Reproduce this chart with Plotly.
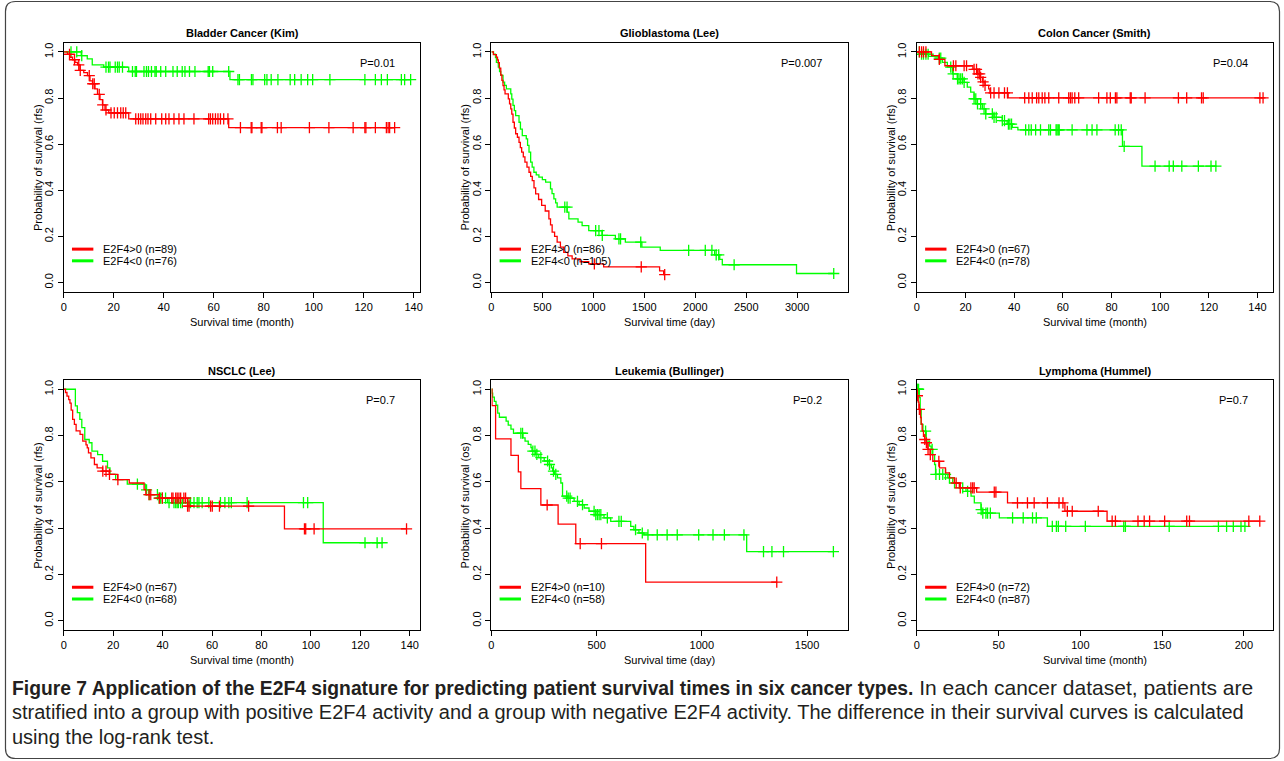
import plotly.graph_objects as go

# ---------------- data ----------------
titles = ["Bladder Cancer (Kim)", "Glioblastoma (Lee)", "Colon Cancer (Smith)",
          "NSCLC (Lee)", "Leukemia (Bullinger)", "Lymphoma (Hummel)"]
p_values = ["P=0.01", "P=0.007", "P=0.04", "P=0.7", "P=0.2", "P=0.7"]
x_titles = ["Survival time (month)", "Survival time (day)", "Survival time (month)",
            "Survival time (month)", "Survival time (day)", "Survival time (month)"]
y_titles = ["Probability of survival (rfs)", "Probability of survival (rfs)",
            "Probability of survival (rfs)", "Probability of survival (rfs)",
            "Probability of survival (os)", "Probability of survival (rfs)"]
pos_labels = ["E2F4>0 (n=89)", "E2F4>0 (n=86)", "E2F4>0 (n=67)",
              "E2F4>0 (n=67)", "E2F4>0 (n=10)", "E2F4>0 (n=72)"]
neg_labels = ["E2F4<0 (n=76)", "E2F4<0 (n=105)", "E2F4<0 (n=78)",
              "E2F4<0 (n=68)", "E2F4<0 (n=58)", "E2F4<0 (n=87)"]
x_tick_step = [20, 500, 20, 20, 500, 50]
x_tick_max = [140, 3000, 140, 140, 1500, 200]
y_ticks = [0.0, 0.2, 0.4, 0.6, 0.8, 1.0]

# Bladder
bladder_pos_t = [1.5, 2.5, 3.5, 4.5, 5.5, 6.5, 8, 9.5, 10.5, 11.5, 12.5, 13.5, 14.5, 15.5, 16.5, 18, 26, 66]
bladder_pos_s = [0.99, 0.977, 0.966, 0.955, 0.944, 0.92, 0.91, 0.897, 0.874, 0.862, 0.84, 0.816, 0.793, 0.77, 0.748, 0.736, 0.71, 0.672]
bladder_pos_c = [2.3, 4.3, 6, 6.6, 10.2, 11.6, 12.2, 14.2, 15.6, 16.9, 18.9, 20.2, 21.5, 22.8, 23.8, 24.8,
                 28.8, 29.9, 30.8, 31.7, 32.8, 33.7, 34.8, 36.8, 39.2, 40.8, 42.1, 44.1, 46.1, 48.1, 52.1,
                 58, 58.7, 59.6, 60.7, 61.7, 62.7, 64, 65.7, 70.7, 75, 75.3, 79, 79.3, 85.5, 87, 98.3,
                 106.1, 115.8, 120.5, 120.9, 124.7, 129.1, 129.8, 130.4, 132.4]
bladder_neg_t = [7, 9.4, 11.4, 16, 26, 66.5]
bladder_neg_s = [0.984, 0.97, 0.944, 0.934, 0.915, 0.88]
bladder_neg_c = [2.9, 5.2, 7.2, 16.9, 17.9, 18.5, 20.6, 21.5, 22.2, 23.5, 27.5, 28.6, 29.1, 32.1, 33.1, 33.9,
                 35.1, 36.5, 37, 38.8, 40.8, 43.7, 45.4, 47.4, 48.5, 50.3, 52.5, 57.8, 58.3, 59.6, 66,
                 69.7, 70.3, 75.1, 75.7, 80.4, 81.3, 83, 85.7, 90.6, 92.4, 95, 97.6, 99.6, 106.5, 120.5,
                 124.7, 127.1, 129.5, 135.1, 136.4, 138.8]

# Glioblastoma
glio_pos_t = [20, 49, 60, 68, 78, 92, 103, 114, 124, 134, 166, 178, 190, 200, 212, 225, 238, 255, 271, 284,
              297, 313, 329, 349, 369, 385, 401, 418, 434, 463, 493, 528, 564, 580, 596, 620, 645, 677,
              710, 750, 792, 870, 955, 1101, 1650, 1690]
glio_pos_s = [0.988, 0.977, 0.965, 0.953, 0.93, 0.9, 0.877, 0.854, 0.835, 0.818, 0.796, 0.775, 0.753, 0.73,
              0.695, 0.67, 0.645, 0.63, 0.608, 0.585, 0.565, 0.545, 0.522, 0.5, 0.478, 0.46, 0.442, 0.41,
              0.384, 0.36, 0.334, 0.31, 0.276, 0.25, 0.218, 0.2, 0.175, 0.153, 0.131, 0.115, 0.102, 0.09,
              0.081, 0.068, 0.05, 0.034]
glio_pos_c = [1010, 1470, 1700]
glio_neg_t = [20, 40, 49, 68, 80, 92, 114, 130, 147, 190, 200, 212, 225, 238, 271, 285, 303, 342, 355, 369,
              385, 400, 417, 440, 466, 500, 532, 580, 595, 613, 630, 645, 743, 760, 850, 890, 955, 1085,
              1216, 1314, 1476, 1656, 2190, 2240, 2265, 2993]
glio_neg_s = [0.99, 0.975, 0.955, 0.934, 0.915, 0.898, 0.869, 0.855, 0.84, 0.818, 0.795, 0.768, 0.745,
              0.724, 0.695, 0.665, 0.637, 0.623, 0.595, 0.565, 0.522, 0.5, 0.478, 0.467, 0.457, 0.446,
              0.435, 0.406, 0.385, 0.363, 0.345, 0.327, 0.305, 0.276, 0.262, 0.247, 0.225, 0.204, 0.189,
              0.175, 0.153, 0.139, 0.12, 0.1, 0.077, 0.039]
glio_neg_c = [720, 742, 1023, 1055, 1088, 1251, 1267, 1465, 1935, 2098, 2163, 2205, 2230, 2381, 3358]

# Colon
colon_pos_t = [6, 9, 11.5, 23, 25, 26, 27, 28, 29.5, 30, 37.5]
colon_pos_s = [0.984, 0.968, 0.94, 0.924, 0.905, 0.89, 0.87, 0.855, 0.84, 0.822, 0.801]
colon_pos_c = [1, 1.9, 2.7, 3.7, 9.2, 15, 16, 19.4, 20.4, 23.5, 24.5, 25.1, 25.8, 26.2, 27.2, 28,
               30.3, 31.7, 33.7, 36, 37.2, 44.3, 46, 47.4, 49.2, 50.1, 51.5, 52.6, 54.2, 58.3, 62.4,
               63.1, 63.8, 64.9, 66.5, 74.7, 78.1, 79.5, 81.6, 82.2, 87.7, 88.1, 93.8, 107.5, 110.9,
               117, 117.7, 141, 142.3]
colon_neg_t = [1.6, 4.8, 9.1, 10.5, 12.5, 14.6, 16.6, 19.4, 20.7, 22.1, 23.5, 24.8, 26.9, 28.3, 31.7,
               35.1, 37.1, 39.2, 41.5, 84.5, 92.5]
colon_neg_s = [0.99, 0.981, 0.973, 0.955, 0.934, 0.905, 0.883, 0.868, 0.847, 0.826, 0.797, 0.775,
               0.753, 0.731, 0.716, 0.702, 0.687, 0.673, 0.662, 0.59, 0.505]
colon_neg_c = [1, 1.9, 2.7, 3.7, 4.6, 9.2, 9.8, 13.9, 14.9, 16.7, 17.3, 18, 18.7, 19.4, 23.5, 24.2,
               24.9, 26.2, 27.6, 28.3, 31, 31.7, 32.6, 35.1, 36, 37.6, 38.2, 38.9, 44.7, 46, 47, 48.8,
               50.8, 54.2, 54.9, 57.2, 57.6, 58.1, 58.5, 63.8, 69.9, 72, 74, 81.5, 82.9, 84, 85.2,
               97.9, 103.7, 105.4, 108.9, 115.7, 120.9, 122.9]

# NSCLC
nsclc_pos_t = [0.7, 1.3, 2, 2.5, 3, 3.6, 4.3, 5, 6.6, 7.7, 9, 9.5, 10, 11, 12.4, 13.5, 15.7, 18.4, 21.8,
               26.5, 32.5, 33.2, 38.6, 50.1, 89.3]
nsclc_pos_s = [0.986, 0.97, 0.955, 0.94, 0.91, 0.87, 0.848, 0.82, 0.805, 0.776, 0.76, 0.747, 0.725,
               0.704, 0.675, 0.66, 0.646, 0.632, 0.61, 0.595, 0.566, 0.545, 0.53, 0.495, 0.397]
nsclc_pos_c = [15.8, 17.1, 18.5, 21.9, 34.5, 35.2, 38.7, 39.9, 43.7, 44.2, 45.3, 45.9, 46.6, 47.3,
               48.6, 49.3, 50.1, 50.7, 59.4, 60.1, 63, 74.8, 97.4, 97.9, 101.3, 138.7]
nsclc_neg_t = [4.7, 5.5, 6.5, 7.3, 8.5, 10.3, 11.4, 13.7, 15.7, 17.7, 18.7, 21, 25.7, 33, 34.5, 38,
               42, 105]
nsclc_neg_s = [0.928, 0.899, 0.87, 0.834, 0.783, 0.769, 0.733, 0.718, 0.689, 0.66, 0.632, 0.61, 0.59,
               0.565, 0.545, 0.53, 0.51, 0.337]
nsclc_neg_c = [29.8, 33.5, 34.6, 37.9, 38.6, 39.2, 39.9, 41.2, 42.6, 44.6, 45.3, 45.9, 46.4, 47.3, 48,
               50.7, 51.3, 52.7, 54, 54.7, 56, 58.7, 63.4, 65.2, 66.8, 67.8, 74.2, 97, 98.7, 121.9,
               126.8, 128.8]

# Leukemia
leuk_pos_t = [3, 20, 93, 128, 140, 235, 317, 401, 733]
leuk_pos_s = [0.929, 0.786, 0.714, 0.643, 0.571, 0.5, 0.417, 0.333, 0.167]
leuk_pos_c = [265, 422, 523, 1356]
leuk_neg_t = [3, 6, 14, 22, 30, 38, 70, 80, 93, 105, 150, 160, 175, 188, 193, 210, 225, 251, 275,
              285, 291, 300, 314, 330, 338, 362, 393, 417, 441, 464, 496, 535, 567, 662, 677, 701,
              725, 1213]
leuk_neg_s = [0.983, 0.966, 0.948, 0.931, 0.897, 0.879, 0.862, 0.845, 0.828, 0.81, 0.79, 0.776,
              0.762, 0.748, 0.733, 0.719, 0.705, 0.69, 0.675, 0.66, 0.646, 0.632, 0.617, 0.595,
              0.538, 0.53, 0.516, 0.501, 0.487, 0.473, 0.458, 0.444, 0.429, 0.408, 0.393, 0.379,
              0.371, 0.299]
leuk_neg_c = [140, 148, 197, 207, 216, 235, 267, 276, 295, 306, 358, 365, 374, 409, 433, 488, 496,
              504, 512, 520, 551, 606, 617, 685, 717, 744, 788, 835, 883, 985, 1053, 1107, 1200,
              1293, 1333, 1388, 1625]

# Lymphoma
lymph_pos_t = [0.1, 0.2, 0.8, 1.2, 2.2, 2.6, 3.2, 4, 4.7, 5.7, 6.7, 8.1, 9.7, 13.8, 17.5, 19.9, 22.9,
               26, 36.5, 55.4, 90.5, 116.3]
lymph_pos_s = [0.986, 0.972, 0.944, 0.913, 0.878, 0.85, 0.82, 0.797, 0.783, 0.769, 0.74, 0.718,
               0.689, 0.66, 0.639, 0.617, 0.595, 0.574, 0.556, 0.509, 0.473, 0.43]
lymph_pos_c = [0.3, 1.5, 4.8, 5.8, 6.8, 8.2, 13.4, 24, 26.5, 33, 34.1, 35, 47.3, 48.3, 61.5, 67.6,
               71.7, 79.8, 86.9, 89.3, 92, 95, 110.9, 119.4, 121.4, 135.2, 139, 142.3, 151.5, 165,
               166.7, 203, 209.7]
lymph_neg_t = [1.5, 2, 2.6, 3.7, 5.7, 7.7, 8.7, 9.7, 10.8, 11.4, 18.9, 21.9, 26, 30, 33.1, 35.1,
               39.2, 40.2, 50.4, 79.8]
lymph_neg_s = [0.964, 0.913, 0.848, 0.819, 0.776, 0.754, 0.74, 0.718, 0.675, 0.632, 0.617, 0.595,
               0.574, 0.559, 0.538, 0.509, 0.48, 0.465, 0.444, 0.408]
lymph_neg_c = [0.2, 0.6, 1, 5.3, 9.3, 11.6, 13.8, 15.8, 17.5, 19.9, 23, 28, 31, 39.3, 40.3, 42.2,
               43.2, 44.9, 58.5, 65, 70.7, 73, 82.8, 85.3, 86.5, 91, 103, 126.5, 127.5, 154.3, 184.4,
               189.4, 193.5, 198.2, 200.6]

caption_bold = "Figure 7 Application of the E2F4 signature for predicting patient survival times in six cancer types."
caption_line1 = " In each cancer dataset, patients are"
caption_line2 = ("stratified into a group with positive E2F4 activity and a group with negative E2F4 activity. "
                 "The difference in their survival curves is calculated")
caption_line3 = "using the log-rank test."

pos_series = [(bladder_pos_t, bladder_pos_s, bladder_pos_c), (glio_pos_t, glio_pos_s, glio_pos_c),
              (colon_pos_t, colon_pos_s, colon_pos_c), (nsclc_pos_t, nsclc_pos_s, nsclc_pos_c),
              (leuk_pos_t, leuk_pos_s, leuk_pos_c), (lymph_pos_t, lymph_pos_s, lymph_pos_c)]
neg_series = [(bladder_neg_t, bladder_neg_s, bladder_neg_c), (glio_neg_t, glio_neg_s, glio_neg_c),
              (colon_neg_t, colon_neg_s, colon_neg_c), (nsclc_neg_t, nsclc_neg_s, nsclc_neg_c),
              (leuk_neg_t, leuk_neg_s, leuk_neg_c), (lymph_neg_t, lymph_neg_s, lymph_neg_c)]

# ---------------- layout (pixels) ----------------
W, H = 1284, 761
RED, GREEN = "#FF0000", "#00FF00"
FONT = "Liberation Sans, Arial, Helvetica, sans-serif"
col_px = [(61, 419), (490.3, 848), (917.5, 1275)]
row_px = [(42.7, 291.7), (380, 630)]
x_range_max = [142.7, 3495, 146.4, 144.3, 1693, 217.8]


def surv_at(time, t, s):
    v = 1.0
    for ti, si in zip(t, s):
        if ti <= time:
            v = si
    return v


fig = go.Figure()
annotations = []
shapes = []

for i in range(6):
    r, c = divmod(i, 3)
    k = i + 1
    xa = "x" if k == 1 else f"x{k}"
    ya = "y" if k == 1 else f"y{k}"
    x0, x1 = col_px[c]
    ytop, ybot = row_px[r]

    for (t, s, cens), color in ((neg_series[i], GREEN), (pos_series[i], RED)):
        end = max(max(t), max(cens))
        fig.add_trace(go.Scatter(
            x=[0] + list(t) + [end], y=[1.0] + list(s) + [s[-1]],
            mode="lines", line=dict(color=color, width=1.3, shape="hv"),
            xaxis=xa, yaxis=ya, showlegend=False, hoverinfo="skip"))
        fig.add_trace(go.Scatter(
            x=cens, y=[surv_at(tc, t, s) for tc in cens],
            mode="markers",
            marker=dict(symbol="cross-thin", size=8, line=dict(color=color, width=1.3)),
            xaxis=xa, yaxis=ya, showlegend=False, hoverinfo="skip"))

    axis_common = dict(showline=True, mirror=True, linecolor="black", linewidth=1.2,
                       ticks="outside", ticklen=5, tickwidth=1, tickcolor="black",
                       showgrid=False, zeroline=False,
                       tickfont=dict(family=FONT, size=11, color="black"))
    fig.layout[("xaxis" if k == 1 else f"xaxis{k}")] = dict(
        domain=[x0 / W, x1 / W], anchor=ya, range=[0, x_range_max[i]],
        tickmode="array",
        tickvals=list(range(0, x_tick_max[i] + 1, x_tick_step[i])),
        **axis_common)
    fig.layout[("yaxis" if k == 1 else f"yaxis{k}")] = dict(
        domain=[1 - ybot / H, 1 - ytop / H], anchor=xa, range=[-0.04, 1.04],
        tickmode="array", tickvals=y_ticks, tickformat=".1f", tickangle=-90,
        **axis_common)

    xd, yd = f"{xa} domain", f"{ya} domain"
    annotations.append(dict(text=f"<b>{titles[i]}</b>", xref=xd, yref=yd, x=0.5, y=1,
                            yshift=9.5, xanchor="center", yanchor="middle", showarrow=False,
                            font=dict(family=FONT, size=11, color="black")))
    annotations.append(dict(text=p_values[i], xref=xd, yref=yd, x=0.934, y=0.92,
                            xanchor="right", yanchor="middle", showarrow=False,
                            font=dict(family=FONT, size=11, color="black")))
    annotations.append(dict(text=x_titles[i], xref=xd, yref=yd, x=0.5, y=0, yshift=-30,
                            xanchor="center", yanchor="middle", showarrow=False,
                            font=dict(family=FONT, size=11, color="black")))
    annotations.append(dict(text=y_titles[i], xref=xd, yref=yd, x=0, y=0.5, xshift=-26,
                            xanchor="center", yanchor="middle", textangle=-90, showarrow=False,
                            font=dict(family=FONT, size=11, color="black")))
    for lab, color, ly in ((pos_labels[i], RED, 0.171), (neg_labels[i], GREEN, 0.124)):
        shapes.append(dict(type="line", xref=xd, yref=yd, x0=0.023, x1=0.083, y0=ly, y1=ly,
                           line=dict(color=color, width=3)))
        annotations.append(dict(text=lab, xref=xd, yref=yd, x=0.105, y=ly, xanchor="left",
                                yanchor="middle", showarrow=False,
                                font=dict(family=FONT, size=11, color="black")))

# caption
CAP_FONT = "Liberation Sans, Arial, sans-serif"
for txt, ypx in ((f"<b><span style='font-size:19.3px'>{caption_bold}</span></b>"
                  f"<span style='font-size:21px'>{caption_line1}</span>", 687),
                 (caption_line2, 712), (caption_line3, 737)):
    annotations.append(dict(text=txt, xref="paper", yref="paper", x=7 / W, y=1 - ypx / H,
                            xanchor="left", yanchor="middle", showarrow=False,
                            font=dict(family=CAP_FONT, size=20, color="#231f20")))

# rounded outer border
L, T, R, B, rr = 2.5 / W, 1 - 1.5 / H, 1281.5 / W, 1 - 758.5 / H, 10
rx, ry = rr / W, rr / H
path = (f"M {L + rx},{T} L {R - rx},{T} Q {R},{T} {R},{T - ry} L {R},{B + ry} "
        f"Q {R},{B} {R - rx},{B} L {L + rx},{B} Q {L},{B} {L},{B + ry} L {L},{T - ry} "
        f"Q {L},{T} {L + rx},{T} Z")
shapes.append(dict(type="path", path=path, xref="paper", yref="paper",
                   line=dict(color="#444444", width=1.2)))

fig.update_layout(width=W, height=H, margin=dict(l=0, r=0, t=0, b=0),
                  paper_bgcolor="white", plot_bgcolor="white",
                  annotations=annotations, shapes=shapes, showlegend=False)

fig.write_html("out.html", config={"displayModeBar": False},
               post_script="document.body.style.margin='0px'; document.body.style.overflow='hidden';")
